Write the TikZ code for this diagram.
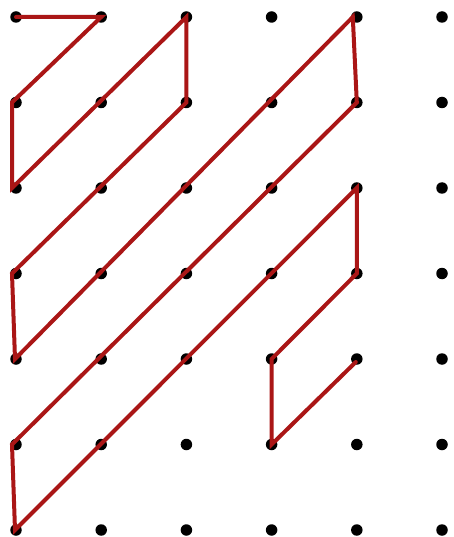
\documentclass[tikz,border=0pt]{standalone}
\usetikzlibrary{calc}
\definecolor{pathred}{RGB}{170,22,22}
\tikzset{
  dot/.style={circle,fill=black,inner sep=0pt,minimum size=11.5pt},
  route/.style={draw=pathred,line width=4pt,line join=miter,line cap=round}
}
\begin{document}
\begin{tikzpicture}[x=1pt,y=-1pt]
\useasboundingbox (0,0) rectangle (454,537);
\foreach \i in {0,...,5}{
  \foreach \j in {0,...,6}{
    \node[dot] (d-\i-\j) at ({16+85.2*\i},{17+85.5*\j}) {};
  }
}
\draw[route] ($(d-0-0.center)$) -- (d-1-0.center) -- ($(d-0-1.center)+(-4,0)$) -- ($(d-0-2.center)+(-4,0)$)
  -- (d-2-0.center) -- (d-2-1.center) -- ($(d-0-3.center)+(-4,0)$) -- ($(d-0-4.center)+(-1,0)$)
  -- ($(d-4-0.center)+(-4,0)$) -- (d-4-1.center) -- ($(d-0-5.center)+(-4,0)$) -- ($(d-0-6.center)+(-1,0)$)
  -- (d-4-2.center) -- (d-4-3.center) -- (d-3-4.center) -- (d-3-5.center) -- ($(d-4-4.center)+(-1,3)$);
\end{tikzpicture}
\end{document}
